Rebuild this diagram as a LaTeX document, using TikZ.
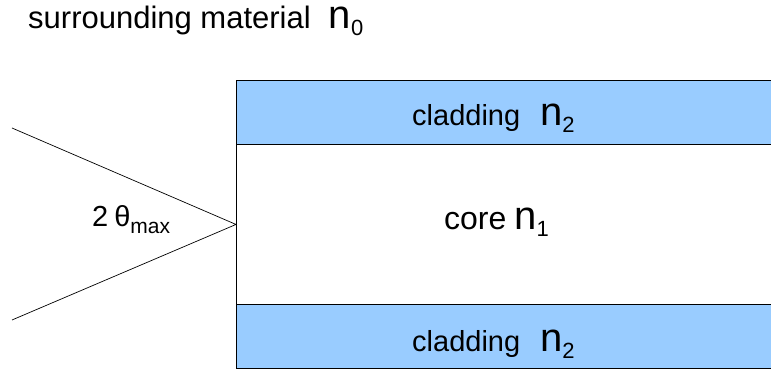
\documentclass[tikz,border=0pt]{standalone}
\usepackage{fontspec}
\setmainfont{Liberation Sans}
\definecolor{cladblue}{HTML}{99CCFF}
% refractive index symbol: large n with lowered subscript
\newcommand\idx[1]{{\fontsize{40}{40}\selectfont n}\raisebox{-7pt}{\fontsize{22}{22}\selectfont #1}}
\begin{document}
\begin{tikzpicture}[x=1pt,y=-1pt,
  layer/.style={draw=black, line width=0.9pt, anchor=north west, inner sep=0pt,
                minimum width=540pt},
  label/.style={anchor=base west, inner sep=0pt, font=\fontsize{29}{30}\selectfont},
  titlelabel/.style={label, font=\fontsize{31}{32}\selectfont},
  corelabel/.style={label, font=\fontsize{32}{33}\selectfont},
  ray/.style={draw=black, line width=0.7pt}]
  \clip (0,0) rectangle (771,371);
  \fill[white] (0,0) rectangle (771,371);

  % fibre layers
  \node[layer, fill=cladblue, minimum height=64pt] (cladtop) at (236,80) {};
  \node[layer, fill=white, minimum height=160pt] (core) at (236,144) {};
  \node[layer, fill=cladblue, minimum height=64pt] (cladbot) at (236,304) {};

  % acceptance cone
  \coordinate (rayA) at (12,128);
  \coordinate (rayB) at (12,320);
  \draw[ray] (rayA) -- (core.west) -- (rayB);

  % labels
  \node[titlelabel] (surround) at (28,29) {surrounding material\hspace{18pt}\idx{0}};
  \node[label] (cladtoptext) at (412,126) {cladding\hspace{20pt}\idx{2}};
  \node[corelabel] (coretext) at (444,230) {core\hspace{8pt}\idx{1}};
  \node[label] (cladbottext) at (412,351) {cladding\hspace{20pt}\idx{2}};
  \node[label] (angle) at (92,227) {2\hspace{6pt}θ\raisebox{-7pt}{\fontsize{21}{21}\selectfont max}};
\end{tikzpicture}
\end{document}
